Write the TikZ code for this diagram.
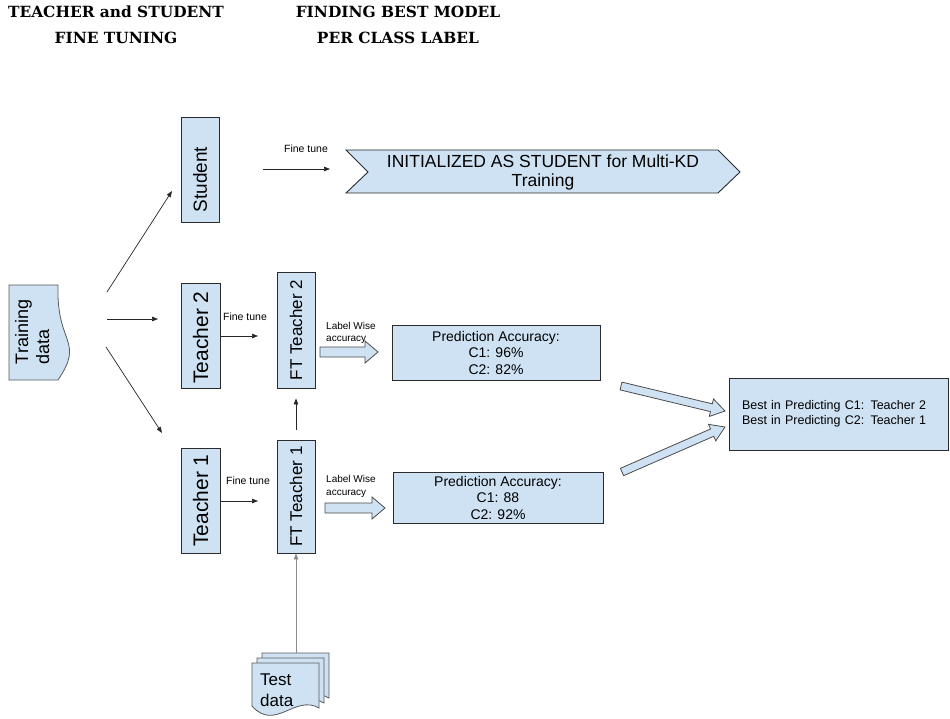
\documentclass[tikz,border=0pt]{standalone}
\usepackage{fontspec}
\setmainfont{Liberation Sans}
\newfontfamily\headfont{DejaVu Serif}
\usetikzlibrary{arrows.meta,calc}

\definecolor{boxfill}{HTML}{CFE2F3}
\definecolor{boxline}{HTML}{2B2B2B}
\definecolor{docline}{HTML}{595959}

% font size helper: size and baseline skip in pt
\newcommand\fsz[2]{\fontsize{#1pt}{#2pt}\selectfont}

% wide outlined arrow: from, to, shaft half width, head half width, head length
\newcommand\blockarrow[5]{%
  \coordinate (ba-neck) at ($(#2)!#5!(#1)$);
  \draw[blk] ($(#1)!#3!90:(#2)$) -- ($(ba-neck)!#3!90:(#2)$)
    -- ($(ba-neck)!#4!90:(#2)$) -- (#2) -- ($(ba-neck)!#4!-90:(#2)$)
    -- ($(ba-neck)!#3!-90:(#2)$) -- ($(#1)!#3!-90:(#2)$) -- cycle;}

\tikzset{
  box/.style={draw=boxline, fill=boxfill, line width=0.9pt, inner sep=0pt},
  doc/.style={draw=docline, fill=boxfill, line width=0.8pt},
  blk/.style={draw=boxline!85, fill=boxfill, line width=0.8pt, line join=miter},
  conn/.style={draw=black!85, line width=0.7pt, -{Triangle[length=6pt,width=4.5pt]}},
  small/.style={inner sep=0pt, font=\fsz{10.5}{12.5}},
  heading/.style={inner sep=0pt, align=center, font=\headfont\bfseries\fsz{15.4}{26}},
}

\begin{document}
\begin{tikzpicture}[x=1pt,y=-1pt]
\useasboundingbox (0,0) rectangle (950,719);
\fill[white] (0,0) rectangle (950,719);

% headings
\node[heading] (h1) at (116,25) {TEACHER and STUDENT\\FINE TUNING};
\node[heading] (h2) at (398,25) {FINDING BEST MODEL\\PER CLASS LABEL};

% training data (document shape turned on its side)
\draw[doc] (9,285) -- (58,285) .. controls (56,345) and (85,340) .. (58,380) -- (9,380) -- cycle;
\node[inner sep=0pt] (train) at (34.5,332)
  {\rotatebox{90}{\fsz{18}{21}\begin{tabular}{@{}l@{}}Training\\data\end{tabular}}};

% model boxes
\node[box, minimum width=38pt, minimum height=105pt] (student) at (200,169.5)
  {\rotatebox{90}{\fsz{19}{22}Student\hspace*{20pt}}};
\node[box, minimum width=39pt, minimum height=105pt] (teacher2) at (200.5,335.5)
  {\rotatebox{90}{\fsz{21}{22}Teacher 2\hspace*{4pt}}};
\node[box, minimum width=39pt, minimum height=105pt] (teacher1) at (200.5,500.5)
  {\rotatebox{90}{\fsz{21}{22}Teacher 1}};
\node[box, minimum width=38pt, minimum height=116pt] (ft2) at (296,330)
  {\rotatebox{90}{\fsz{17}{20}FT Teacher 2}};
\node[box, minimum width=38pt, minimum height=113pt] (ft1) at (296,496.5)
  {\rotatebox{90}{\fsz{17}{20}FT Teacher 1}};

% accuracy boxes
\node[box, minimum width=208pt, minimum height=55pt, align=center, font=\fsz{14}{16.5}]
  (pred2) at (496,352.5) {Prediction Accuracy:\\C1: 96\%\\C2: 82\%};
\node[box, minimum width=210pt, minimum height=51pt, align=center, font=\fsz{14}{16.5}]
  (pred1) at (498,497.5) {Prediction Accuracy:\\C1: 88\\C2: 92\%};
\node[box, minimum width=219pt, minimum height=72pt, inner xsep=13pt, text width=193pt,
  align=left, font=\fsz{12.5}{14.5}]
  (best) at (838.5,414) {Best in Predicting C1: Teacher 2\\Best in Predicting C2: Teacher 1};

% student target (chevron)
\draw[box] (346,150) -- (718,150) -- (740,172) -- (718,193) -- (346,193) -- (368,172) -- cycle;
\node[inner sep=0pt, align=center, font=\fsz{17.5}{19}] (init) at (543,172)
  {INITIALIZED AS STUDENT for Multi-KD\\Training};

% test data (stack of documents)
\foreach \d in {10,5,0}{
  \draw[doc, shift={(\d,-\d)}] (252,663) -- (319,663) -- (319,708)
    .. controls (295,694) and (275,732) .. (252,706) -- cycle;
}
\node[inner sep=0pt, align=left, anchor=west, font=\fsz{17}{21}] (test) at (260,690) {Test\\data};

% connectors from the training data
\coordinate (tr-a) at (107,292);
\coordinate (tr-b) at (107,319);
\coordinate (tr-c) at (106,347);
\coordinate (to-student) at (172,191);
\coordinate (to-teacher2) at (158,319);
\coordinate (to-teacher1) at (162,433);
\draw[conn] (tr-a) -- (to-student);
\draw[conn] (tr-b) -- (to-teacher2);
\draw[conn] (tr-c) -- (to-teacher1);

% fine tuning
\coordinate (st-a) at (263,169);
\coordinate (st-b) at (330,169);
\draw[conn] (st-a) -- (st-b);
\node[small] (ftlab0) at (306,149) {Fine tune};

\coordinate (t2-b) at (258,336);
\draw[conn] (teacher2.east |- t2-b) -- (t2-b);
\node[small] (ftlab2) at (245,317) {Fine tune};

\coordinate (t1-b) at (258,501);
\draw[conn] (teacher1.east |- t1-b) -- (t1-b);
\node[small] (ftlab1) at (248,481) {Fine tune};

% between the fine-tuned teachers
\draw[conn] ($(ft1.north)+(0,-10)$) -- ($(ft2.south)+(0,10)$);

% test data into FT Teacher 1
\coordinate (testtop) at (296,653);
\draw[conn, draw=black!45] (testtop) -- (ft1.south);

% label wise accuracy arrows
\node[small, align=left, anchor=west, font=\fsz{10}{12.5}] (lw2) at (326,333) {Label Wise\\accuracy};
\coordinate (lw2-a) at (320,352);
\coordinate (lw2-b) at (378,352);
\blockarrow{lw2-a}{lw2-b}{5pt}{11pt}{13pt}

\node[small, align=left, anchor=west, font=\fsz{10}{12.5}] (lw1) at (326,486.5) {Label Wise\\accuracy};
\coordinate (lw1-a) at (325,508);
\coordinate (lw1-b) at (385,508);
\blockarrow{lw1-a}{lw1-b}{5pt}{11pt}{13pt}

% into the final choice
\coordinate (b2-a) at (621,386);
\coordinate (b2-b) at (725,411);
\blockarrow{b2-a}{b2-b}{4pt}{9pt}{14pt}
\coordinate (b1-a) at (622,472);
\coordinate (b1-b) at (725,427);
\blockarrow{b1-a}{b1-b}{4pt}{9pt}{14pt}

\end{tikzpicture}
\end{document}
